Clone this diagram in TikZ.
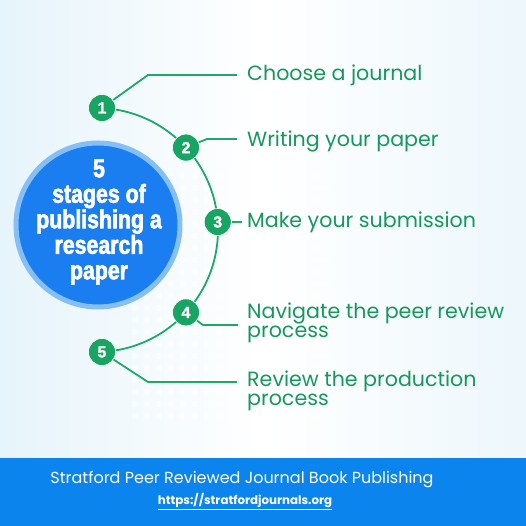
\documentclass[tikz,border=0pt]{standalone}
\usepackage{fontspec}
\setmainfont{Poppins}
\newfontfamily\cond[FakeStretch=0.82,FakeBold=2.2]{Liberation Sans Bold}
\newfontfamily\digits[FakeBold=1.5]{Liberation Sans Bold}
\usetikzlibrary{calc}
\definecolor{gline}{HTML}{1FA866}
\definecolor{gbadge}{HTML}{18A563}
\definecolor{gtext}{HTML}{15995B}
\definecolor{bblue}{HTML}{1A7DF0}
\definecolor{bring}{HTML}{86BFF6}
\definecolor{band}{HTML}{0B84EE}
\definecolor{bgl}{HTML}{E6F4FB}
\definecolor{bgr}{HTML}{EDF7FC}
\tikzset{
  arcline/.style={draw=gline, line width=1.8pt},
  conn/.style={draw=gline, line width=1.8pt},
  badge/.style={circle, fill=gbadge, draw=white, line width=0.6pt, minimum size=27pt, inner sep=0pt,
    text=white, font=\digits\fontsize{16}{16}\selectfont},
  stage/.style={anchor=west, text=gtext, align=left, inner sep=0pt,
    font=\fontsize{20.6}{19.5}\selectfont},
}
\begin{document}
\begin{tikzpicture}[x=1pt,y=1pt]
\useasboundingbox (0,0) rectangle (526,526);
% background
\shade[left color=bgl, right color=bgr, middle color=white] (0,68) rectangle (526,526);
\foreach \i in {0,...,16}{
  \foreach \j in {0,...,20}{
    \fill[white, opacity=0.55] (135+\i*12, 110+\j*12) circle (3.2);
  }
}
% footer band
\fill[band] (0,0) rectangle (526,68);
\node[text=white, font=\fontsize{16}{16}\selectfont] (foot) at (242,46) {Stratford Peer Reviewed Journal Book Publishing};
\node[text=white, font=\fontsize{11.8}{12}\selectfont\bfseries] (url) at (245,24) {\underline{https://stratfordjournals.org}};
% central circle
\node[circle, fill=bblue, draw=bring, line width=5pt, minimum size=164pt, inner sep=0pt] (hub) at (98,301) {};
\node[text=white, align=center, font=\cond\fontsize{26}{25.5}\selectfont] (hubtext) at (99,304)
  {5\\stages of\\publishing a\\research\\paper};
% arc
\draw[arcline] (96,296) ++(87.2:122) arc[start angle=87.2, end angle=-87.2, radius=122];
% badges
\node[badge] (b1) at (102,418) {1};
\node[badge] (b2) at (186,378.4) {2};
\node[badge] (b3) at (217.7,304) {3};
\node[badge] (b4) at (186,213.6) {4};
\node[badge] (b5) at (102,174) {5};
% stage texts
\node[stage] (t1) at (247,451) {Choose a journal};
\node[stage] (t2) at (247,385) {Writing your paper};
\node[stage] (t3) at (247,304) {Make your submission};
\node[stage] (t4) at (247,203) {Navigate the peer review\\process};
\node[stage] (t5) at (247,135) {Review the production\\process};
% connector elbows
\coordinate (k1) at (148,451); \coordinate (e1) at (237,451);
\coordinate (k2) at (207,387); \coordinate (e2) at (237,387);
\coordinate (e3) at (242,304);
\coordinate (k4) at (203,201); \coordinate (e4) at (238,201);
\coordinate (k5) at (148,144); \coordinate (e5) at (237,144);
\draw[conn] (b1) -- (k1) -- (e1);
\draw[conn] (b2) -- (k2) -- (e2);
\draw[conn] (b3) -- (e3);
\draw[conn] (b4) -- (k4) -- (e4);
\draw[conn] (b5) -- (k5) -- (e5);
\end{tikzpicture}
\end{document}
